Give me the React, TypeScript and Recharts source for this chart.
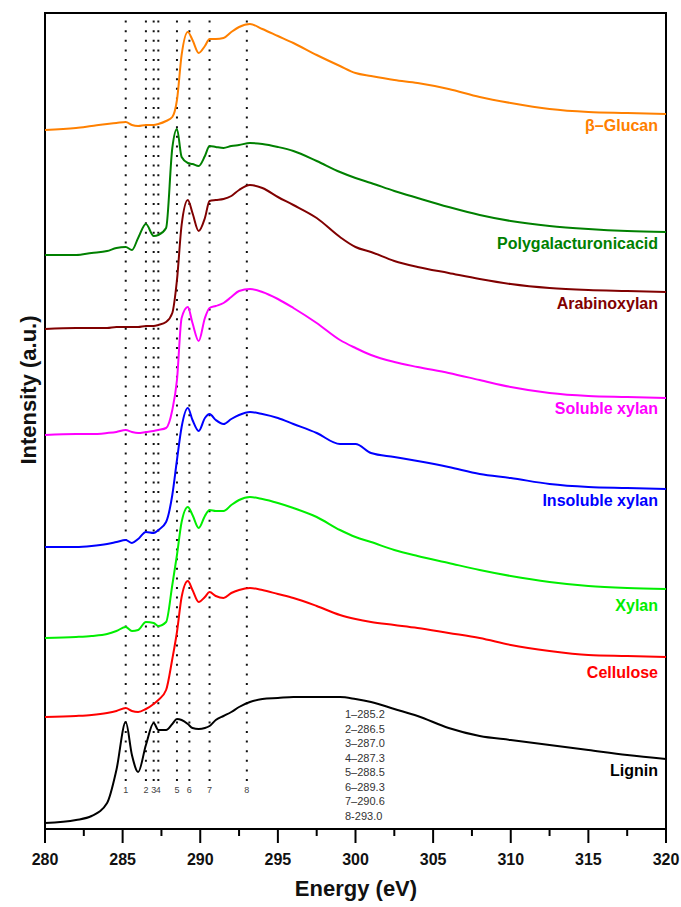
import React from 'react';
import { LineChart, Line, XAxis, YAxis, ReferenceLine, ReferenceDot, ReferenceArea } from 'recharts';

const FONT = '"Liberation Sans", Arial, Helvetica, sans-serif';

// photon energy grid (eV)
const energies = [
  280, 282, 283, 284, 284.6, 285.2, 285.6, 286, 286.5, 287, 287.3, 287.8, 288.2, 288.5, 288.8,
  289.2, 289.5, 289.9, 290.3, 290.6, 291, 291.5, 292, 292.5, 293.2, 294, 295, 296, 297.5, 299,
  300, 301, 302.5, 304, 306, 308, 310, 312.5, 315, 317.5, 320,
];

// stacked spectra, intensity in a.u. (offset already included)
const betaGlucan = [
  6.99, 7.01, 7.03, 7.05, 7.06, 7.07, 7.04, 7.03, 7.04, 7.04, 7.05, 7.08, 7.12, 7.29, 7.74,
  7.97, 7.89, 7.76, 7.83, 7.9, 7.9, 7.91, 7.97, 8.02, 8.05, 8.0, 7.93, 7.86, 7.74, 7.63,
  7.56, 7.53, 7.49, 7.46, 7.4, 7.32, 7.26, 7.2, 7.17, 7.16, 7.15,
];
const polygalacturonic = [
  5.74, 5.74, 5.76, 5.78, 5.81, 5.82, 5.79, 5.91, 6.05, 5.93, 5.94, 6.01, 6.81, 7.0, 6.72,
  6.66, 6.65, 6.63, 6.73, 6.83, 6.82, 6.81, 6.83, 6.84, 6.86, 6.85, 6.82, 6.78, 6.68, 6.57,
  6.51, 6.46, 6.38, 6.31, 6.22, 6.14, 6.08, 6.03, 6.0, 5.98, 5.97,
];
const arabinoxylan = [
  5.0, 5.01, 5.01, 5.01, 5.02, 5.02, 5.02, 5.02, 5.03, 5.03, 5.04, 5.07, 5.16, 5.49, 6.04,
  6.29, 6.16, 5.98, 6.11, 6.28, 6.29, 6.3, 6.33, 6.39, 6.44, 6.41, 6.32, 6.24, 6.11, 5.92,
  5.82, 5.77, 5.68, 5.62, 5.56, 5.5, 5.45, 5.41, 5.39, 5.38, 5.37,
];
const solubleXylan = [
  3.94, 3.95, 3.95, 3.96, 3.97, 3.99, 3.97, 3.96, 3.97, 3.98, 3.99, 4.01, 4.19, 4.49, 5.11,
  5.22, 5.06, 4.88, 5.11, 5.21, 5.23, 5.26, 5.32, 5.38, 5.4, 5.37, 5.3, 5.21, 5.06, 4.89,
  4.81, 4.74, 4.67, 4.62, 4.56, 4.49, 4.42, 4.36, 4.33, 4.32, 4.31,
];
const insolubleXylan = [
  2.82, 2.82, 2.83, 2.85, 2.87, 2.89, 2.86, 2.9, 2.97, 2.96, 2.99, 3.07, 3.34, 3.69, 4.02,
  4.21, 4.09, 3.98, 4.11, 4.15, 4.09, 4.05, 4.1, 4.14, 4.17, 4.15, 4.11, 4.05, 3.96, 3.85,
  3.85, 3.76, 3.72, 3.68, 3.62, 3.55, 3.51, 3.45, 3.42, 3.41, 3.4,
];
const xylan = [
  1.91, 1.92, 1.93, 1.95, 1.98, 2.02, 1.98, 1.99, 2.07, 2.06, 2.03, 2.07, 2.44, 2.74, 3.07,
  3.22, 3.14, 3.01, 3.13, 3.19, 3.18, 3.18, 3.24, 3.29, 3.32, 3.3, 3.26, 3.21, 3.12, 2.99,
  2.92, 2.87, 2.79, 2.73, 2.66, 2.59, 2.53, 2.47, 2.43, 2.41, 2.4,
];
const cellulose = [
  1.12, 1.13, 1.14, 1.16, 1.18, 1.21, 1.18, 1.17, 1.2, 1.25, 1.29, 1.39, 1.7, 1.97, 2.32,
  2.48, 2.39, 2.27, 2.32, 2.37, 2.33, 2.31, 2.36, 2.39, 2.41, 2.39, 2.35, 2.31, 2.23, 2.14,
  2.1, 2.07, 2.04, 2.01, 1.96, 1.91, 1.84, 1.78, 1.74, 1.73, 1.72,
];
const lignin = [
  0.06, 0.09, 0.13, 0.26, 0.59, 1.07, 0.74, 0.57, 0.84, 1.06, 0.99, 0.99, 1.05, 1.1, 1.09,
  1.05, 1.01, 1.0, 1.01, 1.03, 1.09, 1.13, 1.17, 1.22, 1.27, 1.3, 1.31, 1.32, 1.32, 1.32,
  1.3, 1.27, 1.2, 1.13, 1.01, 0.93, 0.89, 0.84, 0.79, 0.74, 0.7,
];

const peakEnergies = [285.2, 286.5, 287.0, 287.3, 288.5, 289.3, 290.6, 293.0];
const peakLabels = ['1–285.2', '2–286.5', '3–287.0', '4–287.3', '5–288.5', '6–289.3', '7–290.6', '8-293.0'];
const energyTicks = [280, 282.5, 285, 287.5, 290, 292.5, 295, 297.5, 300, 302.5, 305, 307.5, 310, 312.5, 315, 317.5, 320];

const series = [
  { key: 'glucan', name: 'β–Glucan', values: betaGlucan, color: '#ff8000', dy: 17 },
  { key: 'pga', name: 'Polygalacturonicacid', values: polygalacturonic, color: '#008000', dy: 17 },
  { key: 'arabino', name: 'Arabinoxylan', values: arabinoxylan, color: '#800000', dy: 17 },
  { key: 'soluble', name: 'Soluble xylan', values: solubleXylan, color: '#ff00ff', dy: 16 },
  { key: 'insoluble', name: 'Insoluble xylan', values: insolubleXylan, color: '#0000ff', dy: 17 },
  { key: 'xylan', name: 'Xylan', values: xylan, color: '#00ee00', dy: 22 },
  { key: 'cellulose', name: 'Cellulose', values: cellulose, color: '#ff0000', dy: 21 },
  { key: 'lignin', name: 'Lignin', values: lignin, color: '#000000', dy: 17 },
];

const data = energies.map((e, i) => {
  const row: Record<string, number> = { energy: e };
  series.forEach((s) => {
    row[s.key] = s.values[i];
  });
  return row;
});

const EnergyTick = ({ x, y, payload }: any) => {
  const major = payload.value % 5 === 0;
  return (
    <g>
      <line x1={x} x2={x} y1={y} y2={y + (major ? 14 : 7)} stroke="#000" strokeWidth={2} />
      {major && (
        <text x={x} y={y + 36} textAnchor="middle" fontSize={16} fontWeight="bold" fontFamily={FONT} fill="#111">
          {payload.value}
        </text>
      )}
    </g>
  );
};

export default function App() {
  return (
    <div style={{ position: 'absolute', left: 0, top: 0, width: 681, height: 907, background: '#fff' }}>
      <LineChart width={681} height={907} data={data} margin={{ top: 13, right: 15, bottom: 0, left: 45 }}>
        <XAxis
          dataKey="energy"
          type="number"
          domain={[280, 320]}
          ticks={energyTicks}
          interval={0}
          tick={EnergyTick}
          tickLine={false}
          tickSize={0}
          tickMargin={0}
          height={78}
          axisLine={{ stroke: '#000', strokeWidth: 2 }}
          allowDataOverflow
        />
        <YAxis type="number" domain={[0, 8.16]} width={0} tick={false} tickLine={false} axisLine={{ stroke: '#000', strokeWidth: 2 }} allowDataOverflow />

        {/* plot frame */}
        <ReferenceArea x1={280} x2={320} y1={0} y2={8.16} fill="none" fillOpacity={0} stroke="#000" strokeWidth={2} />

        {peakEnergies.map((e) => (
          <ReferenceLine
            key={`pl-${e}`}
            segment={[{ x: e, y: 0.48 }, { x: e, y: 8.16 }]}
            stroke="#111"
            strokeWidth={2}
            strokeDasharray="2 7.6"
          />
        ))}

        {series.map((s) => (
          <Line
            key={s.key}
            type="monotone"
            dataKey={s.key}
            stroke={s.color}
            strokeWidth={2}
            dot={false}
            isAnimationActive={false}
          />
        ))}

        {peakEnergies.map((e, i) => (
          <ReferenceDot
            key={`pn-${e}`}
            x={e}
            y={0.39}
            r={0}
            shape={(p: any) => (
              <text x={p.cx} y={p.cy + 3} textAnchor="middle" fontSize={9} fontFamily={FONT} fill="#444">
                {i + 1}
              </text>
            )}
          />
        ))}

        {series.map((s) => (
          <ReferenceDot
            key={`name-${s.key}`}
            x={320}
            y={s.values[s.values.length - 1]}
            r={0}
            shape={(p: any) => (
              <text x={p.cx - 8} y={p.cy + s.dy} textAnchor="end" fontSize={16} fontWeight="bold" fontFamily={FONT} fill={s.color}>
                {s.name}
              </text>
            )}
          />
        ))}
      </LineChart>

      <svg width={681} height={907} style={{ position: 'absolute', left: 0, top: 0, pointerEvents: 'none' }}>
        <text
          transform="translate(28,390) rotate(-90)"
          textAnchor="middle"
          dominantBaseline="central"
          fontSize={22}
          fontWeight="bold"
          fontFamily={FONT}
          fill="#111"
        >
          Intensity (a.u.)
        </text>
        <text x={356} y={896} textAnchor="middle" fontSize={22} fontWeight="bold" fontFamily={FONT} fill="#111">
          Energy (eV)
        </text>
        {peakLabels.map((t, i) => (
          <text key={t} x={345} y={718 + i * 14.5} fontSize={11} fontFamily={FONT} fill="#333">
            {t}
          </text>
        ))}
      </svg>
    </div>
  );
}
